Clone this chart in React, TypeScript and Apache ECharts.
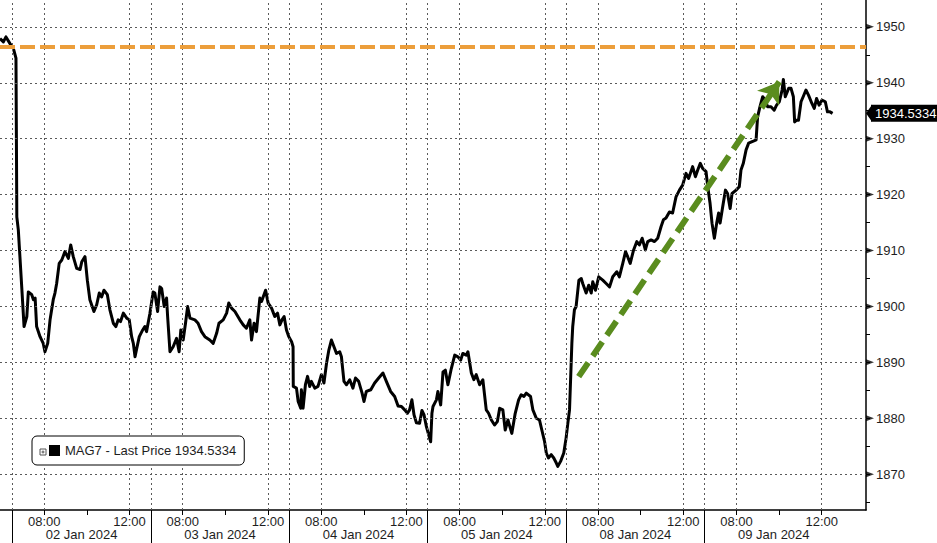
import React, { useEffect, useRef } from 'react';
import * as echarts from 'echarts';

// ---- Axis / labels ----
const dayLabels = ['02 Jan 2024', '03 Jan 2024', '04 Jan 2024', '05 Jan 2024', '08 Jan 2024', '09 Jan 2024'];
const sessionOpen = '06:30';
const sessionLength = 6.5; // hours per trading session
const timeTickLabels = ['08:00', '12:00'];
const minorTimeTicks = ['10:00'];
const yTickValues = [1870, 1880, 1890, 1900, 1910, 1920, 1930, 1940, 1950];
const yMinorTickValues = [1865, 1875, 1885, 1895, 1905, 1915, 1925, 1935, 1945];
const xMin = -0.58;
const xMax = 40.08;
const yMin = 1863.6;
const yMax = 1954.8;

// ---- Series: hours since 02 Jan 06:30 (trading sessions joined) ----
const hours = [
  -0.58, -0.42, -0.3, -0.11, 0.05, 0.17, 0.21, 0.28, 0.44, 0.55, 0.68, 0.75, 0.91, 0.99, 1.07, 1.14, 1.3, 1.45, 1.53, 1.66,
  1.77, 1.92, 2.0, 2.08, 2.2, 2.32, 2.47, 2.63, 2.74, 2.86, 3.02, 3.18, 3.26, 3.41, 3.52, 3.64, 3.83, 3.96, 4.08, 4.19,
  4.3, 4.46, 4.58, 4.74, 4.86, 4.97, 5.08, 5.21, 5.37, 5.49, 5.6, 5.68, 5.76, 5.84, 5.96, 6.12, 6.22, 6.3, 6.46,
  6.61, 6.69, 6.82, 6.93, 7.01, 7.13, 7.24, 7.29, 7.4, 7.55, 7.71, 7.83, 7.91, 8.02, 8.13, 8.23, 8.34, 8.57, 8.72, 8.88,
  9.04, 9.27, 9.43, 9.59, 9.7, 9.9, 10.06, 10.16, 10.29, 10.45, 10.68, 10.84, 10.99, 11.15, 11.23, 11.35, 11.46, 11.62, 11.7, 11.89,
  12.01, 12.17, 12.32, 12.45, 12.56, 12.66, 12.76, 12.87, 12.98,
  13.11, 13.18, 13.19, 13.34, 13.42, 13.54, 13.57, 13.65, 13.76, 13.86, 13.96, 14.04, 14.2, 14.35, 14.51, 14.63, 14.75, 14.86, 14.98, 15.1,
  15.22, 15.37, 15.45, 15.57, 15.69, 15.84, 15.99, 16.11, 16.26, 16.42, 16.51, 16.62, 16.83, 17.01, 17.2, 17.4, 17.56, 17.76, 17.95, 18.11,
  18.27, 18.42, 18.55, 18.65, 18.76, 18.86, 18.97, 19.12, 19.23, 19.33, 19.44,
  19.55, 19.64, 19.7, 19.75, 19.91, 19.98, 20.11, 20.22, 20.33, 20.45, 20.61, 20.77, 20.92, 21.05, 21.15, 21.31, 21.39, 21.55, 21.67, 21.78,
  21.94, 22.09, 22.25, 22.36, 22.49, 22.64, 22.77, 22.88, 23.03, 23.14, 23.27, 23.45, 23.61, 23.77, 23.89, 24.02, 24.13, 24.33, 24.44, 24.6,
  24.75, 24.86, 24.99, 25.07, 25.17, 25.3, 25.42, 25.54, 25.61, 25.74, 25.89,
  26.0, 26.08, 26.16, 26.21, 26.27, 26.31, 26.39, 26.47, 26.6, 26.71, 26.78, 26.94, 27.06, 27.18, 27.25, 27.38, 27.53, 27.72, 27.88, 28.04,
  28.19, 28.38, 28.5, 28.66, 28.79, 28.89, 29.01, 29.16, 29.32, 29.44, 29.57, 29.72, 29.83, 29.99, 30.15, 30.3, 30.46, 30.57, 30.69, 30.85,
  31.0, 31.16, 31.32, 31.47, 31.63, 31.75, 31.94, 32.07, 32.18, 32.3, 32.41,
  32.57, 32.65, 32.76, 32.85, 32.96, 33.07, 33.16, 33.23, 33.35, 33.48, 33.58, 33.7, 33.79, 33.98, 34.13, 34.21, 34.32, 34.45, 34.57, 34.76,
  34.92, 34.99, 35.1, 35.23, 35.35, 35.46, 35.62, 35.77, 35.88, 36.01, 36.14, 36.2, 36.29, 36.45, 36.56, 36.67, 36.73, 36.82, 36.91, 37.03,
  37.13, 37.26, 37.38, 37.54, 37.65, 37.76, 37.88, 38.01, 38.17, 38.27, 38.39, 38.51,
];

const prices = [
  1947.9, 1947.3, 1948.2, 1947.0, 1946.1, 1944.4, 1916.0, 1913.7, 1903.5, 1896.4, 1898.2, 1902.6, 1902.1, 1901.2, 1901.5, 1896.4, 1894.6, 1893.4, 1891.9, 1893.4,
  1897.6, 1901.2, 1902.4, 1904.1, 1907.7, 1908.3, 1909.8, 1908.6, 1911.0, 1908.9, 1906.8, 1906.6, 1908.0, 1908.9, 1904.7, 1901.2, 1899.1, 1900.3, 1902.4, 1901.7,
  1902.9, 1902.1, 1899.4, 1897.0, 1896.4, 1897.6, 1897.3, 1898.8, 1897.9, 1897.6, 1894.6, 1893.4, 1891.0, 1892.5, 1894.6, 1895.8, 1896.4, 1895.5, 1898.8,
  1902.6, 1902.4, 1899.1, 1903.5, 1903.2, 1900.0, 1901.5, 1898.2, 1891.9, 1892.8, 1894.3, 1891.9, 1895.8, 1894.0, 1897.0, 1900.0, 1897.9, 1897.6, 1897.0, 1895.5,
  1894.6, 1894.0, 1893.4, 1895.2, 1897.0, 1897.6, 1898.8, 1900.6, 1899.7, 1899.1, 1897.6, 1896.7, 1896.1, 1897.6, 1894.0, 1897.0, 1895.5, 1901.5, 1900.9, 1902.9,
  1900.6, 1899.7, 1898.2, 1898.8, 1896.7, 1897.6, 1898.2, 1895.8, 1894.6,
  1893.7, 1892.8, 1885.7, 1885.4, 1883.0, 1881.8, 1885.1, 1881.8, 1886.0, 1887.5, 1885.7, 1886.6, 1885.4, 1885.7, 1887.8, 1886.3, 1889.8, 1892.2, 1894.0, 1892.8,
  1891.6, 1891.9, 1891.0, 1886.6, 1886.0, 1886.9, 1885.4, 1887.2, 1886.6, 1884.5, 1883.0, 1884.8, 1885.1, 1886.3, 1887.2, 1888.1, 1886.6, 1884.8, 1883.9, 1882.2,
  1882.1, 1881.5, 1880.9, 1881.5, 1883.3, 1880.6, 1879.2, 1879.1, 1881.4, 1880.6, 1878.5,
  1877.0, 1875.8, 1880.9, 1882.1, 1883.3, 1884.8, 1882.4, 1888.3, 1888.6, 1886.0, 1888.9, 1891.3, 1891.0, 1890.4, 1891.6, 1891.3, 1891.9, 1888.1, 1886.9, 1887.8,
  1886.0, 1886.9, 1881.5, 1880.9, 1879.7, 1878.8, 1879.4, 1881.8, 1881.5, 1877.9, 1879.7, 1877.3, 1880.9, 1883.3, 1884.2, 1883.9, 1884.5, 1883.9, 1881.5, 1880.0,
  1879.7, 1877.9, 1875.8, 1873.8, 1872.9, 1873.5, 1872.9, 1872.0, 1871.4, 1872.3, 1873.8,
  1876.5, 1879.1, 1881.5, 1886.9, 1893.4, 1896.4, 1899.4, 1900.0, 1904.7, 1905.0, 1904.1, 1902.4, 1903.8, 1902.4, 1904.4, 1902.9, 1905.3, 1904.7, 1904.1, 1903.5,
  1905.3, 1906.2, 1905.3, 1907.7, 1909.8, 1908.9, 1907.7, 1910.0, 1911.6, 1911.0, 1912.2, 1910.1, 1911.6, 1911.9, 1911.6, 1912.2, 1914.3, 1915.5, 1915.8, 1916.9,
  1916.7, 1919.6, 1920.8, 1921.7, 1923.8, 1922.9, 1925.0, 1923.2, 1924.4, 1925.6, 1924.7,
  1924.1, 1921.4, 1918.4, 1914.9, 1912.2, 1914.9, 1916.7, 1914.9, 1917.8, 1920.8, 1920.2, 1917.5, 1920.2, 1920.8, 1921.4, 1924.4, 1925.6, 1928.0, 1929.2, 1929.5,
  1929.8, 1933.9, 1935.7, 1937.5, 1936.9, 1935.7, 1935.7, 1935.1, 1936.0, 1936.6, 1938.7, 1940.6, 1937.5, 1939.0, 1939.0, 1937.5, 1933.0, 1933.3, 1933.3, 1936.6,
  1937.5, 1938.7, 1937.8, 1936.3, 1935.4, 1937.2, 1936.0, 1936.9, 1936.6, 1934.8, 1934.8, 1934.5334,
];

const seriesName = 'MAG7';
const lastPrice = 1934.5334;
const resistanceLevel = 1946.4;
const trendStart = [26.59, 1887.45];
const trendEnd = [36.01, 1940.17];

// ---- Styling ----
const FONT = 'Liberation Sans';
const TEXT = '#1e1e1e';
const GRID_COLOR = '#5a5a5a';
const ORANGE = '#EC9E3B';
const GREEN = '#5A8C1E';

const toHours = (t: string) => {
  const [h, m] = t.split(':').map(Number);
  const [oh, om] = sessionOpen.split(':').map(Number);
  return h + m / 60 - (oh + om / 60);
};

export default function App() {
  const ref = useRef<HTMLDivElement>(null);

  useEffect(() => {
    if (!ref.current) return;
    const chart = echarts.init(ref.current, undefined, { renderer: 'svg' });

    const dayStarts = dayLabels.map((_, i) => i * sessionLength);
    const dayCenters = dayStarts.map((s) => s + sessionLength / 2);
    const labelTicks = dayStarts.flatMap((s) => timeTickLabels.map((t) => s + toHours(t)));
    const allTimeTicks = dayStarts
      .flatMap((s) => [...timeTickLabels, ...minorTimeTicks].map((t) => s + toHours(t)))
      .sort((a, b) => a - b);
    const gridX = [...dayStarts, ...labelTicks];
    const data = hours.map((h, i) => [h, prices[i]]);

    const timeLabelFor = (v: number) => {
      const within = ((v % sessionLength) + sessionLength) % sessionLength;
      const hit = timeTickLabels.find((t) => Math.abs(toHours(t) - within) < 0.01);
      return hit || '';
    };
    const dayLabelFor = (v: number) => {
      const idx = Math.round((v - sessionLength / 2) / sessionLength);
      return dayLabels[idx] || '';
    };

    const labelStyle = { color: TEXT, fontFamily: FONT, fontSize: 13 };

    chart.setOption({
      animation: false,
      backgroundColor: '#ffffff',
      textStyle: { fontFamily: FONT },
      grid: { left: 0, right: 71, top: 0, bottom: 33, containLabel: false },
      legend: {
        data: [seriesName],
        left: 32,
        top: 436,
        z: 10,
        backgroundColor: '#ffffff',
        borderColor: '#000000',
        borderWidth: 1,
        borderRadius: 5,
        padding: [8, 8, 8, 17],
        itemWidth: 11,
        itemHeight: 11,
        icon: 'rect',
        selectedMode: false,
        formatter: () => `${seriesName} - Last Price ${lastPrice}`,
        textStyle: { ...labelStyle },
      },
      graphic: [
        {
          type: 'group',
          left: 39,
          top: 448,
          z: 100,
          silent: true,
          children: [
            { type: 'rect', z: 100, shape: { x: 0, y: 0, width: 6, height: 6 }, style: { fill: '#fff', stroke: '#555', lineWidth: 1 } },
            { type: 'line', z: 101, shape: { x1: 1.5, y1: 3, x2: 4.5, y2: 3 }, style: { stroke: '#555', lineWidth: 1 } },
            { type: 'line', z: 101, shape: { x1: 3, y1: 1.5, x2: 3, y2: 4.5 }, style: { stroke: '#555', lineWidth: 1 } },
          ],
        },
      ],
      xAxis: [
        {
          type: 'value',
          min: xMin,
          max: xMax,
          position: 'bottom',
          axisLine: { show: true, onZero: false, lineStyle: { color: '#000', width: 1.5 } },
          axisTick: { show: true, customValues: allTimeTicks, length: 5, lineStyle: { color: '#000', width: 1 } },
          axisLabel: { show: true, customValues: labelTicks, margin: 5, formatter: timeLabelFor, ...labelStyle },
          splitLine: { show: false },
        },
        {
          type: 'value',
          min: xMin,
          max: xMax,
          position: 'bottom',
          axisLine: { show: false, onZero: false },
          axisTick: { show: true, customValues: dayStarts, length: 33, lineStyle: { color: '#000', width: 1 } },
          axisLabel: { show: true, customValues: dayCenters, margin: 18, formatter: dayLabelFor, ...labelStyle },
          splitLine: { show: false },
        },
      ],
      yAxis: {
        type: 'value',
        min: yMin,
        max: yMax,
        position: 'right',
        axisLine: { show: true, onZero: false, lineStyle: { color: '#000', width: 1.5 } },
        axisTick: { show: true, customValues: [...yTickValues, ...yMinorTickValues], length: 4, lineStyle: { color: '#000', width: 1 } },
        axisLabel: { show: true, customValues: yTickValues, margin: 10, formatter: (v: number) => String(v), ...labelStyle },
        splitLine: { show: false },
      },
      series: [
        {
          name: 'grid',
          type: 'line',
          data: [],
          silent: true,
          z: 1,
          markLine: {
            silent: true,
            symbol: ['none', 'none'],
            label: { show: false },
            lineStyle: { color: GRID_COLOR, type: [2, 3], width: 1 },
            data: [...gridX.map((x) => ({ xAxis: x })), ...yTickValues.map((y) => ({ yAxis: y }))],
          },
        },
        {
          name: 'resistance',
          type: 'line',
          data: [],
          silent: true,
          z: 2,
          markLine: {
            silent: true,
            symbol: ['none', 'none'],
            label: { show: false },
            lineStyle: { color: ORANGE, type: [15, 5], width: 4 },
            data: [{ yAxis: resistanceLevel }],
          },
        },
        {
          name: seriesName,
          type: 'line',
          data,
          z: 3,
          showSymbol: false,
          color: '#000',
          itemStyle: { color: '#000' },
          lineStyle: { color: '#000', width: 3, join: 'round' },
          markLine: {
            silent: true,
            symbol: ['none', 'none'],
            lineStyle: { color: 'rgba(0,0,0,0)', width: 0.01 },
            data: [
              {
                yAxis: lastPrice,
                label: {
                  show: true,
                  position: 'end',
                  distance: 5,
                  formatter: String(lastPrice),
                  backgroundColor: '#000',
                  color: '#fff',
                  padding: [2, 4, 2, 4],
                  fontFamily: FONT,
                  fontSize: 13,
                },
              },
            ],
          },
          markPoint: {
            silent: true,
            symbol: 'triangle',
            symbolSize: [17, 6],
            symbolRotate: 90,
            symbolOffset: [3, 0],
            itemStyle: { color: '#000' },
            label: { show: false },
            data: [{ coord: [xMax, lastPrice] }],
          },
        },
        {
          name: 'trend',
          type: 'line',
          data: [],
          silent: true,
          z: 4,
          markLine: {
            silent: true,
            symbol: ['none', 'arrow'],
            symbolSize: 20,
            label: { show: false },
            lineStyle: { color: GREEN, type: [17, 8], width: 6 },
            data: [[{ coord: trendStart }, { coord: trendEnd }]],
          },
        },
        {
          name: 'yTickMarks',
          type: 'scatter',
          data: yTickValues.map((v) => [xMax, v]),
          symbol: 'triangle',
          symbolSize: [6, 8],
          symbolRotate: -90,
          symbolOffset: [4, 0],
          itemStyle: { color: '#000' },
          silent: true,
          clip: false,
          z: 5,
        },
      ],
    });

    return () => {
      chart.dispose();
    };
  }, []);

  return (
    <div
      ref={ref}
      style={{ position: 'fixed', left: 0, top: 0, width: 937, height: 543, background: '#fff' }}
    />
  );
}
